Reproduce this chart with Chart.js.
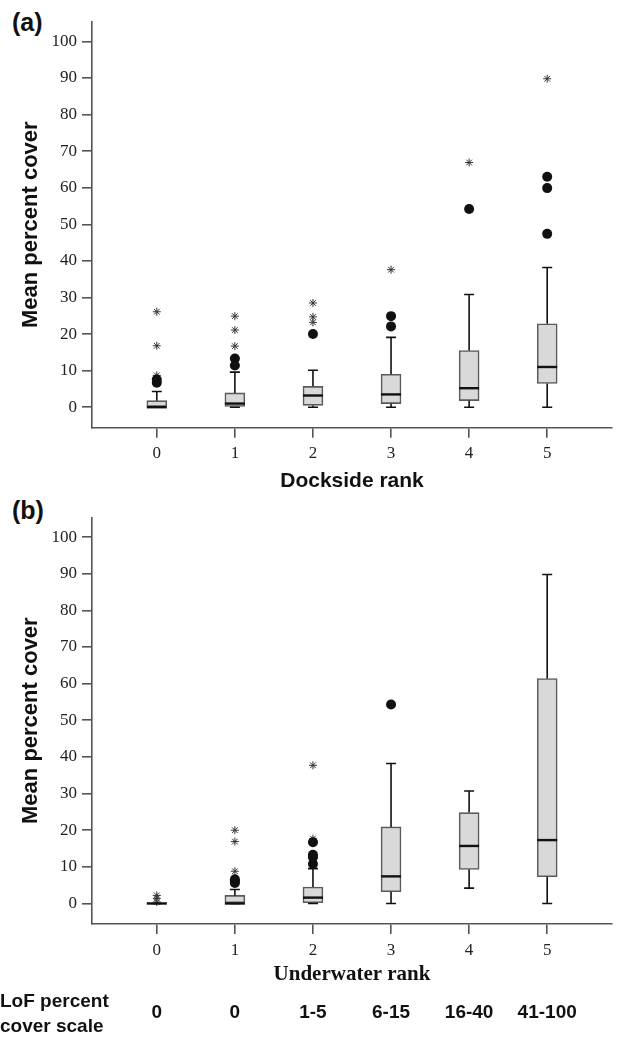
<!DOCTYPE html>
<html>
<head>
<meta charset="utf-8">
<script src="https://cdn.jsdelivr.net/npm/chart.js@4.4.1/dist/chart.umd.min.js"></script>
<style>
  body { margin: 0; background: #fff; width: 617px; height: 1037px; position: relative; overflow: hidden; }
  canvas { position: absolute; left: 0; }
  #chartA { top: 0; }
  #chartB { top: 500px; }
  .panel { position: absolute; left: 12px; font: bold 25px "Liberation Sans", Arial, sans-serif; color: #111; line-height: 25px; }
</style>
</head>
<body>
<div class="panel" style="top:10px">(a)</div>
<div class="panel" style="top:498px">(b)</div>
<canvas id="chartA" width="617" height="500"></canvas>
<canvas id="chartB" width="617" height="537"></canvas>
<script>
(function(){
    "use strict";

    const ranks = [0, 1, 2, 3, 4, 5];
    const yTicks = [0, 10, 20, 30, 40, 50, 60, 70, 80, 90, 100];
    const lofScale = ['0', '0', '1-5', '6-15', '16-40', '41-100'];

    // (a) dockside rank
    const docksideMin = [0, 0, 0, 0, 0, 0];
    const docksideQ1 = [0, 0, 0.5, 1.0, 1.8, 6.5];
    const docksideMedian = [0, 1.0, 3.2, 3.5, 5.2, 11.0];
    const docksideQ3 = [1.8, 3.9, 5.7, 9.0, 15.5, 22.8];
    const docksideMax = [4.3, 9.6, 10.1, 19.1, 30.8, 38.2];
    const docksideCircles = [[7.6, 6.7], [13.3, 11.4], [20.0], [24.9, 22.1], [54.2], [63.0, 59.9, 47.4]];
    const docksideStars = [[26.1, 16.8, 8.7], [24.9, 21.1, 16.7], [28.5, 24.7, 23.2], [37.6], [66.9], [89.8]];

    // (b) underwater rank
    const underwaterMin = [0, 0, 0, 0, 4.2, 0];
    const underwaterQ1 = [0, 0, 0.2, 3.2, 9.3, 7.3];
    const underwaterMedian = [0, 0, 1.6, 7.4, 15.7, 17.3];
    const underwaterQ3 = [0.2, 2.2, 4.5, 20.9, 24.8, 61.4];
    const underwaterMax = [0, 3.8, 9.5, 38.2, 30.7, 89.8];
    const underwaterCircles = [[], [6.6, 6.0, 5.6], [16.7, 13.3, 12.6, 10.8], [54.3], [], []];
    const underwaterStars = [[2.2, 1.4, 0.4], [20.0, 16.9, 8.8], [37.7, 17.7], [], [], []];

    const sans = '"Liberation Sans", Arial, sans-serif';
    const serif = '"Liberation Serif", "Times New Roman", serif';
    const axisColor = '#555';

    function points(lists) {
        const out = [];
        lists.forEach(function(list, i){
            list.forEach(function(v){ out.push({x: ranks[i], y: v}); });
        });
        return out;
    }

    // whiskers, caps and medians drawn through the chart scales
    const whiskerPlugin = {
        id: 'whiskers',
        afterDatasetsDraw(chart, args, opts) {
            const {ctx} = chart;
            const xs = chart.scales.x, ys = chart.scales.y;
            ctx.save();
            ctx.strokeStyle = '#111';
            ranks.forEach(function(r, i){
                const px = xs.getPixelForValue(r);
                const yMax = ys.getPixelForValue(opts.max[i]);
                const yMin = ys.getPixelForValue(opts.min[i]);
                const yQ1 = ys.getPixelForValue(opts.q1[i]);
                const yQ3 = ys.getPixelForValue(opts.q3[i]);
                const yMed = ys.getPixelForValue(opts.median[i]);
                ctx.lineWidth = 1.6;
                ctx.beginPath();
                ctx.moveTo(px, yQ3); ctx.lineTo(px, yMax);
                ctx.moveTo(px - 5, yMax); ctx.lineTo(px + 5, yMax);
                ctx.moveTo(px, yQ1); ctx.lineTo(px, yMin);
                ctx.moveTo(px - 5, yMin); ctx.lineTo(px + 5, yMin);
                ctx.stroke();
                ctx.lineWidth = 2.4;
                ctx.beginPath();
                ctx.moveTo(px - 10, yMed); ctx.lineTo(px + 10, yMed);
                ctx.stroke();
            });
            ctx.restore();
        }
    };

    // LoF percent cover row under panel (b)
    const lofPlugin = {
        id: 'lofRow',
        afterDraw(chart, args, opts) {
            if (!opts.show) return;
            const {ctx} = chart;
            const xs = chart.scales.x;
            ctx.save();
            ctx.fillStyle = '#111';
            ctx.font = 'bold 19px ' + sans;
            ctx.textBaseline = 'middle';
            ctx.textAlign = 'left';
            ctx.fillText('LoF percent', 0, 502);
            ctx.fillText('cover scale', 0, 527);
            ctx.textAlign = 'center';
            lofScale.forEach(function(label, i){
                ctx.fillText(label, xs.getPixelForValue(ranks[i]), 513);
            });
            ctx.restore();
        }
    };

    function makeConfig(s) {
        return {
            type: 'bar',
            data: {
                datasets: [
                    {
                        type: 'scatter',
                        data: points(s.circles),
                        pointStyle: 'circle',
                        pointRadius: 5,
                        backgroundColor: '#111',
                        borderWidth: 0
                    },
                    {
                        type: 'scatter',
                        data: points(s.stars),
                        pointStyle: 'star',
                        pointRadius: 4,
                        borderColor: '#333',
                        borderWidth: 1
                    },
                    {
                        type: 'bar',
                        data: ranks.map(function(r, i){ return {x: r, y: [s.q1[i], s.q3[i]]}; }),
                        backgroundColor: '#d9d9d9',
                        borderColor: '#5a5a5a',
                        borderWidth: 1.6,
                        borderSkipped: false,
                        barThickness: 20
                    }
                ]
            },
            options: {
                responsive: false,
                animation: false,
                layout: { padding: { left: 0, right: 2, top: s.padTop, bottom: s.padBottom } },
                plugins: {
                    legend: { display: false },
                    tooltip: { enabled: false },
                    whiskers: { min: s.min, q1: s.q1, median: s.median, q3: s.q3, max: s.max },
                    lofRow: { show: s.lof }
                },
                scales: {
                    x: {
                        type: 'linear',
                        min: -0.83,
                        max: 5.83,
                        offset: false,
                        afterBuildTicks: function(scale){ scale.ticks = ranks.map(function(v){ return {value: v}; }); },
                        afterFit: function(scale){ scale.height = s.xHeight; },
                        grid: { drawOnChartArea: false, offset: false, tickLength: 10, color: axisColor, lineWidth: 1.6 },
                        border: { display: true, color: axisColor, width: 1.6 },
                        ticks: { padding: 6, color: '#222', font: { family: serif, size: 17 } },
                        title: { display: true, text: s.xTitle, color: '#111', font: { family: s.xTitleFont, size: 21, weight: 'bold' }, padding: { top: 0, bottom: 2 } }
                    },
                    y: {
                        min: -5.6,
                        max: 105.4,
                        afterBuildTicks: function(scale){ scale.ticks = yTicks.map(function(v){ return {value: v}; }); },
                        afterFit: function(scale){ scale.width = 92; },
                        grid: { drawOnChartArea: false, tickLength: 10, color: axisColor, lineWidth: 1.6 },
                        border: { display: true, color: axisColor, width: 1.6 },
                        ticks: { padding: 5, color: '#222', font: { family: serif, size: 17 } },
                        title: { display: true, text: 'Mean percent cover', color: '#111', font: { family: sans, size: 22, weight: 'bold' }, padding: { top: 18, bottom: 0 } }
                    }
                }
            },
            plugins: [whiskerPlugin, lofPlugin]
        };
    }

    new Chart(document.getElementById('chartA'), makeConfig({
        min: docksideMin, q1: docksideQ1, median: docksideMedian, q3: docksideQ3, max: docksideMax,
        circles: docksideCircles, stars: docksideStars,
        xTitle: 'Dockside rank', xTitleFont: sans,
        padTop: 21.7, padBottom: 4, xHeight: 68.3, lof: false
    }));

    new Chart(document.getElementById('chartB'), makeConfig({
        min: underwaterMin, q1: underwaterQ1, median: underwaterMedian, q3: underwaterQ3, max: underwaterMax,
        circles: underwaterCircles, stars: underwaterStars,
        xTitle: 'Underwater rank', xTitleFont: serif,
        padTop: 17.3, padBottom: 48.1, xHeight: 64.9, lof: true
    }));
})();
</script>
</body>
</html>
